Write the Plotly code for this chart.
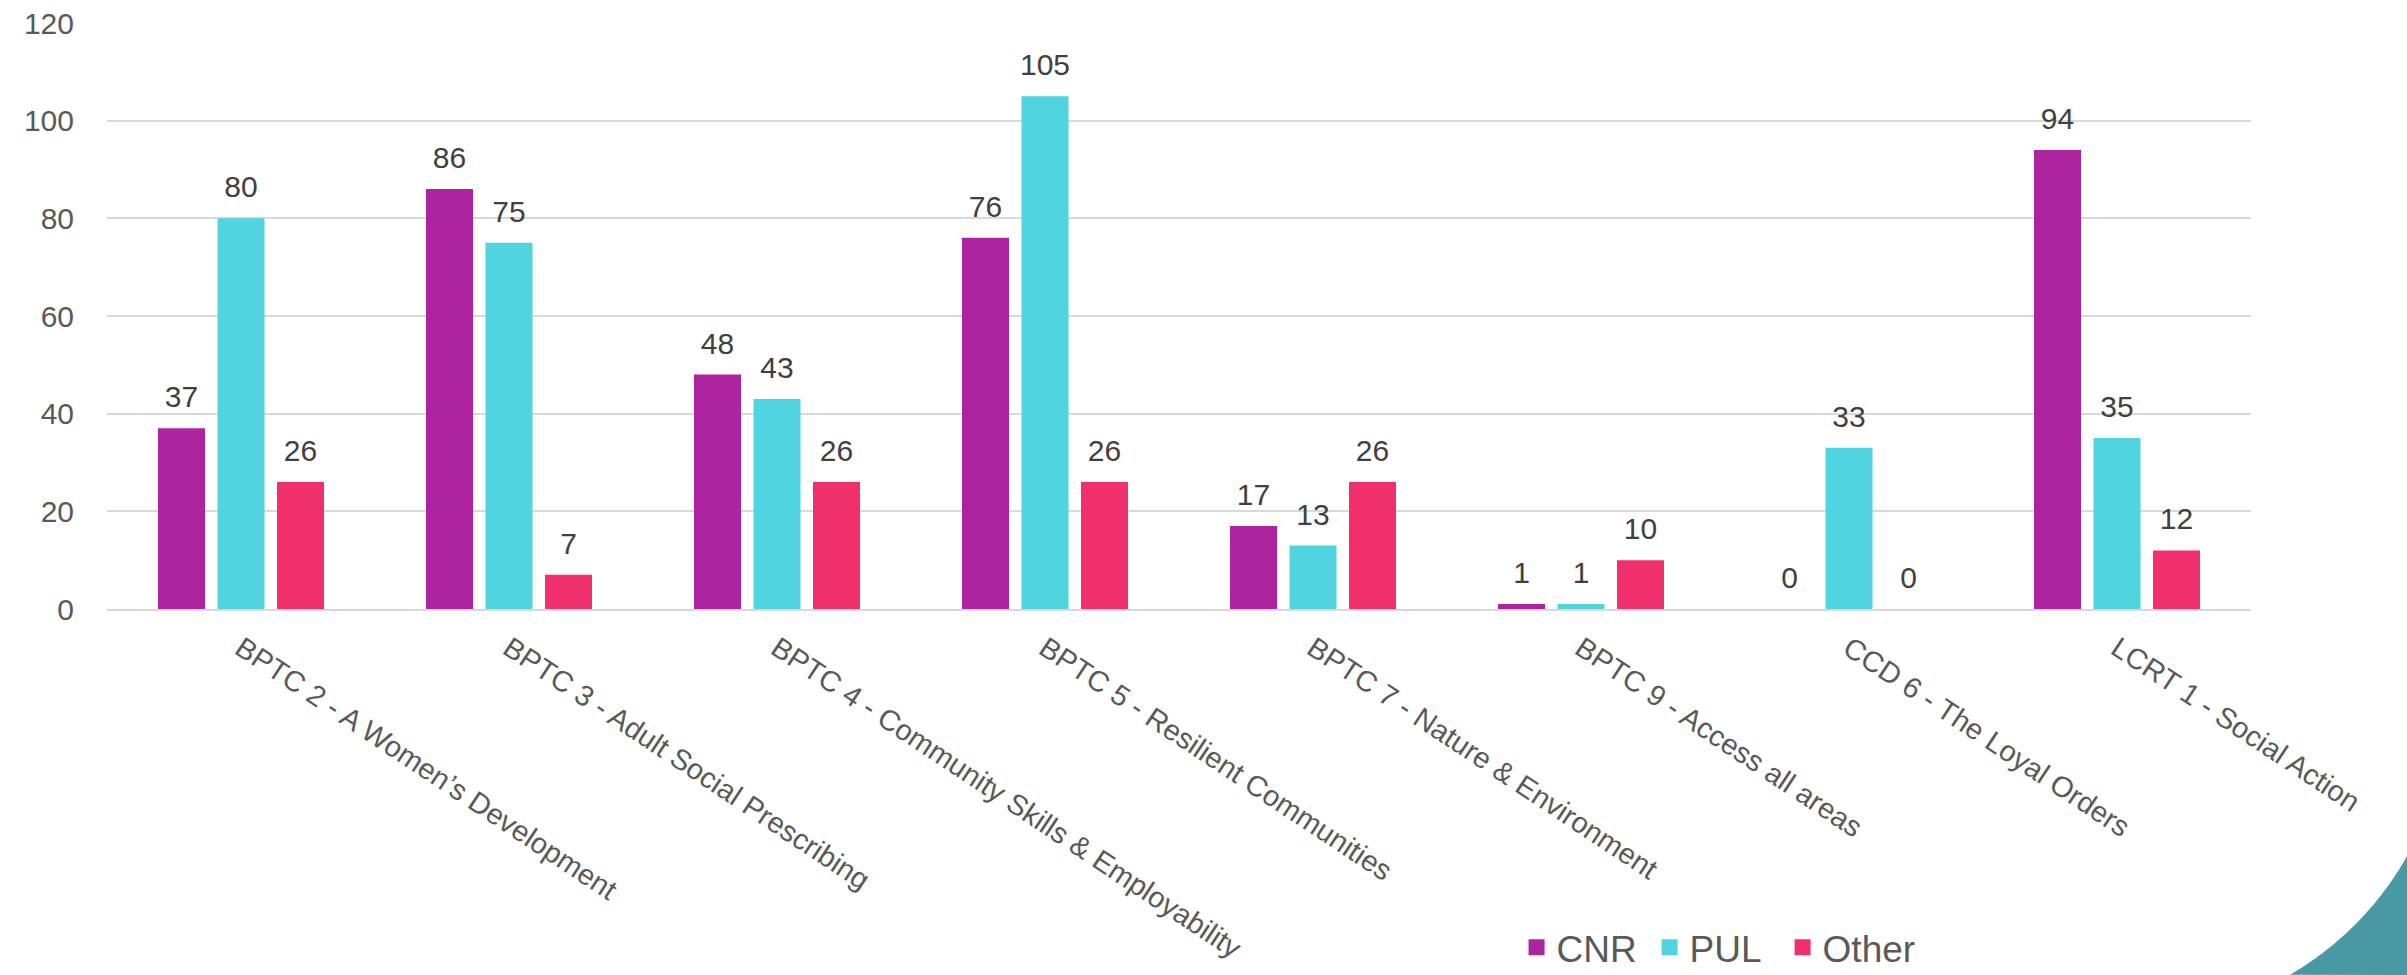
"""Grouped bar chart: CNR / PUL / Other by programme"""
import math
import plotly.graph_objects as go

# data
categories = [
    "BPTC 2 - A Women’s Development",
    "BPTC 3 - Adult Social Prescribing",
    "BPTC 4 - Community Skills & Employability",
    "BPTC 5 - Resilient Communities",
    "BPTC 7 - Nature & Environment",
    "BPTC 9 - Access all areas",
    "CCD 6 - The Loyal Orders",
    "LCRT 1 - Social Action",
]
cnr = [37, 86, 48, 76, 17, 1, 0, 94]
pul = [80, 75, 43, 105, 13, 1, 33, 35]
other = [26, 7, 26, 26, 26, 10, 0, 12]

series_names = ["CNR", "PUL", "Other"]
series_values = [cnr, pul, other]
colors = ["#AD23A0", "#50D4DF", "#F0306B"]

W, H = 2407, 975
L, R, T, B = 107, 156, 23, 366
GAP = 0.334

fig = go.Figure()
for name, vals, col in zip(series_names, series_values, colors):
    fig.add_trace(go.Bar(
        x=categories, y=vals, name=name, marker_color=col,
        marker_line_width=0, showlegend=False, offsetgroup=name,
    ))
    # value labels, grouped the same way as the bars, lifted a little
    fig.add_trace(go.Scatter(
        x=categories, y=vals, mode="markers+text", text=vals,
        textposition="top center", offsetgroup=name, showlegend=False,
        marker=dict(size=20, opacity=0), cliponaxis=False, hoverinfo="skip",
        textfont=dict(size=30, color="#404040", family="Liberation Sans"),
    ))
    # legend entry with a bigger square key
    fig.add_trace(go.Scatter(
        x=[None], y=[None], mode="markers", name=name,
        marker=dict(symbol="square", size=21, color=col),
    ))

# teal decoration in the bottom-right corner (edge of a circle)
cx, cy, r = 2130, 700, 318
pts = []
for k in range(41):
    px_ = 2290 + (2407 - 2290) * k / 40
    py_ = cy + math.sqrt(max(r * r - (px_ - cx) ** 2, 0))
    pts.append((px_, py_))
pts += [(2407, 975)]
pw, ph = W - L - R, H - T - B
def to_paper(p):
    return (p[0] - L) / pw, (H - B - p[1]) / ph
path = "M " + " L ".join(f"{x:.4f},{y:.4f}" for x, y in map(to_paper, pts)) + " Z"
fig.add_shape(type="path", path=path, xref="paper", yref="paper",
              fillcolor="#4899A3", line_width=0, layer="below")

fig.update_layout(
    width=W, height=H,
    margin=dict(l=L, r=R, t=T, b=B, autoexpand=False),
    paper_bgcolor="white", plot_bgcolor="white",
    barmode="group", bargap=GAP, bargroupgap=0.21,
    scattermode="group", scattergap=GAP,
    font=dict(family="Liberation Sans", color="#595959"),
    legend=dict(
        orientation="h", x=0.7505, y=-0.578, xanchor="center", yanchor="middle",
        font=dict(size=37, color="#595959"), itemwidth=30,
        entrywidth=88, entrywidthmode="pixels",
    ),
)
fig.update_yaxes(
    range=[0, 120], dtick=20, showgrid=True, gridcolor="#D9D9D9", gridwidth=2,
    zeroline=False, showline=False, ticks="", automargin=False,
    tickfont=dict(size=30, color="#595959"), ticklabelstandoff=32,
)
fig.update_xaxes(
    showline=True, linecolor="#D9D9D9", linewidth=2, ticks="", automargin=False,
    tickangle=33.5, tickfont=dict(size=29, color="#595959"), ticklabelstandoff=9,
)

# drop the default page margin so the figure sits at the window's corner
fig.write_html("out.html", config={"displayModeBar": False},
               post_script="document.body.style.margin='0';")
